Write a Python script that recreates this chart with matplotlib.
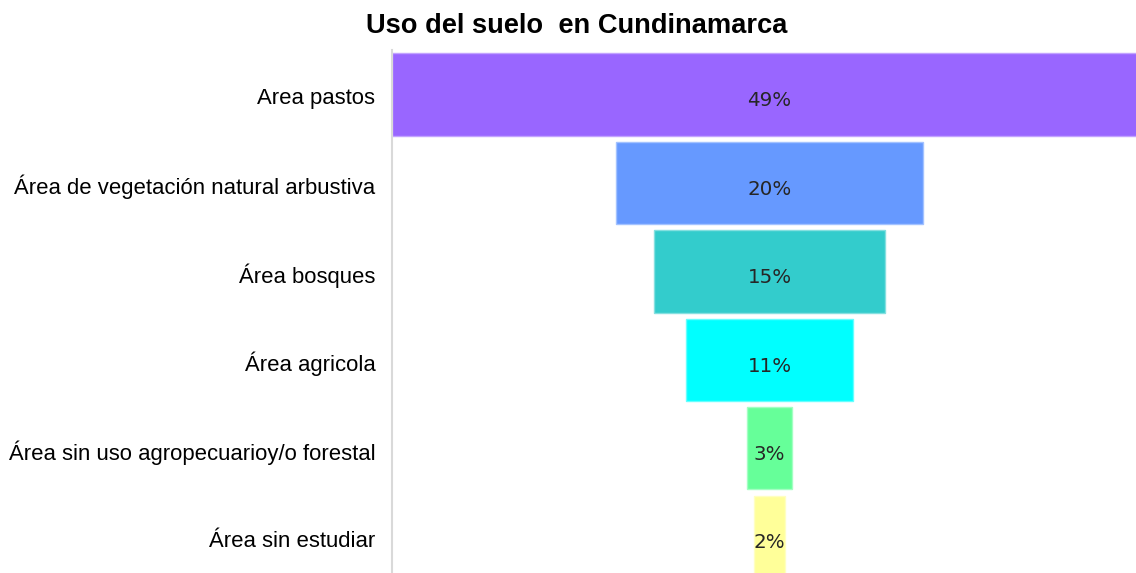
import matplotlib
matplotlib.use("Agg")
import matplotlib.pyplot as plt
from matplotlib.colors import to_rgb

categories = ["Area pastos", "Área de vegetación natural arbustiva", "Área bosques",
              "Área agricola", "Área sin uso agropecuarioy/o forestal", "Área sin estudiar"]
values = [49, 19.9, 15, 10.8, 2.9, 2]
labels = ["49%", "20%", "15%", "11%", "3%", "2%"]
colors = ["#9966FF", "#6699FF", "#33CCCC", "#00FFFF", "#66FF99", "#FFFF99"]

W, H = 1136, 573
fig = plt.figure(figsize=(W/100, H/100), dpi=100)
ax = fig.add_axes([392/W, 0, (1147-392)/W, 1-50/H])

ypos = list(range(len(categories)))
lefts = [-v/2 for v in values]
edge = [tuple(0.6*c + 0.4 for c in to_rgb(col)) for col in colors]
ax.barh(ypos, values, left=lefts, height=0.93, color=colors, edgecolor=edge, linewidth=1)

for y, lab in zip(ypos, labels):
    ax.text(0, y + 0.07, lab, ha="center", va="center", fontsize=14.3,
            family="DejaVu Sans", color="#262626")

ax.set_xlim(-max(values)/2, max(values)/2)
ax.set_ylim(5.41, -0.503)
ax.set_yticks([y + 0.02 for y in ypos])
ax.set_yticklabels(categories, family="Liberation Sans", fontsize=15.9)
ax.tick_params(axis="y", length=0, pad=12)
ax.set_xticks([])
for s in ["top", "right", "bottom"]:
    ax.spines[s].set_visible(False)
ax.spines["left"].set_color("#d9d9d9")
ax.spines["left"].set_linewidth(1.5)

fig.text(577/W, 1-26/H, "Uso del suelo  en Cundinamarca", ha="center", va="center",
         fontsize=19.6, fontweight="bold", family="Liberation Sans")

fig.savefig("out.png", dpi=100)
